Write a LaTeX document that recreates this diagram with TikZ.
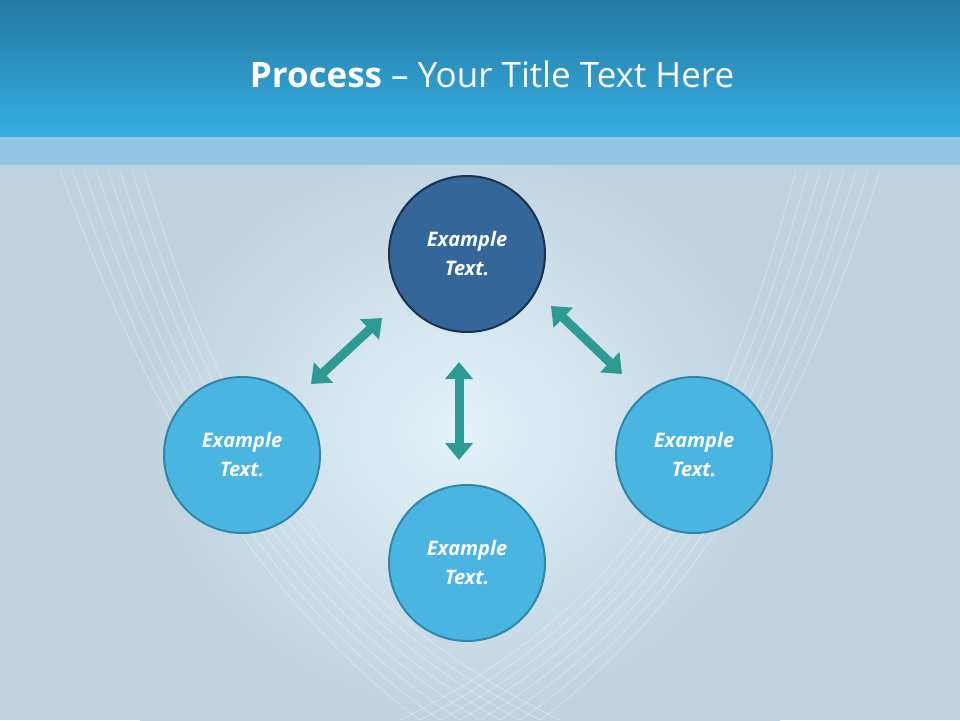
\documentclass[tikz,border=0pt]{standalone}
\usepackage{fontspec}
\setmainfont{Open Sans}
\usetikzlibrary{arrows.meta}
\definecolor{topA}{HTML}{2379A3}
\definecolor{topB}{HTML}{37AEE1}
\definecolor{band}{HTML}{94C5E2}
\definecolor{bgA}{HTML}{BFD2DE}
\definecolor{bgB}{HTML}{E4F3FA}
\definecolor{darkc}{HTML}{336699}
\definecolor{darkb}{HTML}{1A3350}
\definecolor{lightc}{HTML}{4AB5E1}
\definecolor{lightb}{HTML}{2F87AA}
\definecolor{arr}{HTML}{2E9A96}
\tikzset{
 circ/.style={circle,minimum size=156pt,inner sep=0pt,line width=2pt,fill=lightc,draw=lightb,text=white,align=center,font=\itshape\bfseries\fontsize{20}{29}\selectfont},
 darkcirc/.style={circ,fill=darkc,draw=darkb},
 darr/.style={line width=9pt,draw=arr,{Triangle[width=27pt,length=17pt]}-{Triangle[width=27pt,length=17pt]}}
}
\begin{document}
\begin{tikzpicture}[x=1pt,y=-1pt]
\useasboundingbox (0,0) rectangle (960,720);
\fill[bgA] (0,0) rectangle (960,720);
\shade[inner color=bgB,outer color=bgA] (140,140) rectangle (780,720);
\foreach \i in {0,...,7}{
 \draw[white,opacity=0.35,line width=0.8pt] (60+\i*12,170) .. controls (150+\i*10,420) and (260+\i*8,600) .. (420+\i*20,720);
 \draw[white,opacity=0.35,line width=0.8pt] (880-\i*12,170) .. controls (800-\i*10,420) and (700-\i*8,600) .. (540-\i*20,720);
}
\shade[top color=topA,bottom color=topB] (0,0) rectangle (960,137);
\fill[band] (0,137) rectangle (960,165);
\node (title) at (492,74) {\color{white}\fontsize{35}{40}\selectfont\textbf{Process} – Your Title Text Here};
\node[darkcirc] (top) at (467,254) {Example\\Text.};
\node[circ] (left) at (242,455) {Example\\Text.};
\node[circ] (right) at (694,455) {Example\\Text.};
\node[circ] (bottom) at (467,563) {Example\\Text.};
\coordinate (l1) at (382,318); \coordinate (l2) at (311,384);
\coordinate (m1) at (459,362); \coordinate (m2) at (459,460);
\coordinate (r1) at (551,306); \coordinate (r2) at (622,374);
\draw[darr] (l1) -- (l2);
\draw[darr] (m1) -- (m2);
\draw[darr] (r1) -- (r2);
\end{tikzpicture}
\end{document}
